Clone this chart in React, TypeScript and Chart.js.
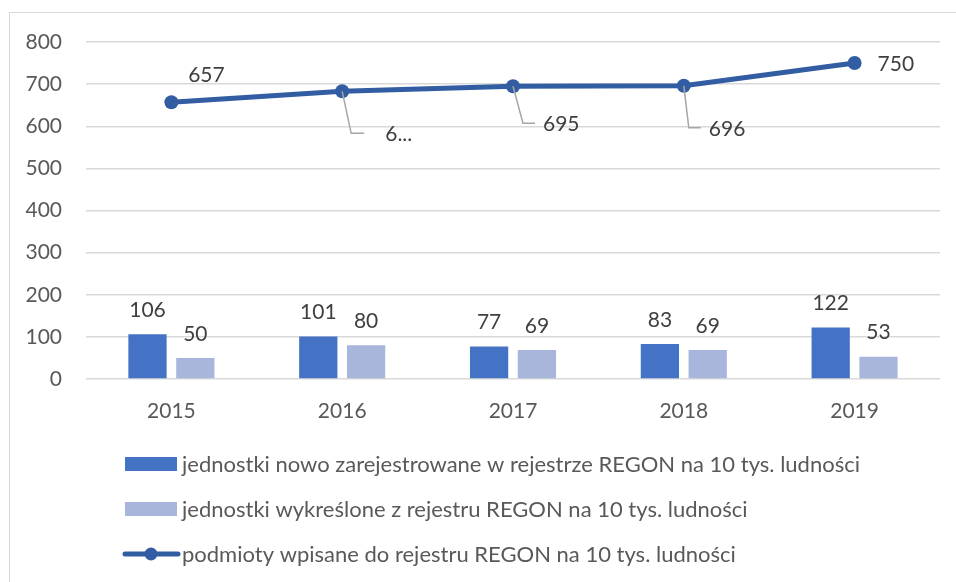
import { useEffect, useRef } from "react";
import { Chart, registerables } from "chart.js";

Chart.register(...registerables);

const categories = ["2015", "2016", "2017", "2018", "2019"];
const newUnits = [106, 101, 77, 83, 122];
const removedUnits = [50, 80, 69, 69, 53];
const registeredEntities = [657, 683, 695, 696, 750];
const registeredLabels = ["657", "6...", "695", "696", "750"];
const seriesNames = [
  "jednostki nowo zarejestrowane w rejestrze REGON na 10 tys. ludności",
  "jednostki wykreślone z rejestru REGON na 10 tys. ludności",
  "podmioty wpisane do rejestru REGON na 10 tys. ludności",
];
const yMin = 0;
const yMax = 800;
const yStep = 100;

const COLORS = {
  dark: "#4472C4",
  light: "#A9B6DC",
  line: "#325DA3",
  grid: "#D9D9D9",
  tick: "#595959",
  label: "#404040",
  leader: "#A6A6A6",
};
const FONT = "Lato, 'Open Sans', sans-serif";
const FS = 21;
const LEGEND_FS = 22;

// label placement relative to the point (style only)
const lineLabelPlacement = [
  { mode: "free", dx: 35, dy: -27 },
  { mode: "leader", kx: 9, ky: 42, hx: 22, tx: 43, ty: 43 },
  { mode: "leader", kx: 10, ky: 37, hx: 22, tx: 30, ty: 38 },
  { mode: "leader", kx: 5, ky: 42, hx: 17, tx: 25, ty: 43 },
  { mode: "right", dx: 23, dy: 1 },
];

const labelsPlugin = {
  id: "customLabels",
  beforeDraw(chart: any) {
    const ctx = chart.ctx;
    ctx.save();
    ctx.strokeStyle = COLORS.grid;
    ctx.lineWidth = 1;
    ctx.strokeRect(9.5, 12.5, 1200, 1200);
    ctx.restore();
  },
  afterDraw(chart: any) {
    const ctx = chart.ctx;
    ctx.save();
    ctx.font = `${FS}px ${FONT}`;
    ctx.fillStyle = COLORS.label;
    ctx.textBaseline = "middle";
    // bar labels
    [0, 1].forEach((di) => {
      const meta = chart.getDatasetMeta(di);
      const data = chart.data.datasets[di].data;
      meta.data.forEach((el: any, i: number) => {
        ctx.textAlign = "center";
        ctx.fillText(String(data[i]), el.x, el.y - 24);
      });
    });
    // line labels
    const lmeta = chart.getDatasetMeta(2);
    lmeta.data.forEach((el: any, i: number) => {
      const p: any = lineLabelPlacement[i];
      const txt = registeredLabels[i];
      if (p.mode === "leader") {
        ctx.strokeStyle = COLORS.leader;
        ctx.lineWidth = 1.5;
        ctx.beginPath();
        ctx.moveTo(el.x, el.y);
        ctx.lineTo(el.x + p.kx, el.y + p.ky);
        ctx.lineTo(el.x + p.hx, el.y + p.ky);
        ctx.stroke();
        ctx.textAlign = "left";
        ctx.fillText(txt, el.x + p.tx, el.y + p.ty);
      } else if (p.mode === "right") {
        ctx.textAlign = "left";
        ctx.fillText(txt, el.x + p.dx, el.y + p.dy);
      } else {
        ctx.textAlign = "center";
        ctx.fillText(txt, el.x + p.dx, el.y + p.dy);
      }
    });
    // legend
    const lx = 125;
    const rows = [464, 509, 554];
    ctx.fillStyle = COLORS.dark;
    ctx.fillRect(lx, rows[0] - 7, 52, 14);
    ctx.fillStyle = COLORS.light;
    ctx.fillRect(lx, rows[1] - 7, 52, 14);
    ctx.strokeStyle = COLORS.line;
    ctx.lineWidth = 5;
    ctx.lineCap = "round";
    ctx.beginPath();
    ctx.moveTo(lx, rows[2]);
    ctx.lineTo(lx + 53, rows[2]);
    ctx.stroke();
    ctx.fillStyle = COLORS.line;
    ctx.beginPath();
    ctx.arc(lx + 26, rows[2], 6.5, 0, Math.PI * 2);
    ctx.fill();
    ctx.font = `${LEGEND_FS}px ${FONT}`;
    ctx.fillStyle = COLORS.tick;
    ctx.textAlign = "left";
    seriesNames.forEach((n, i) => ctx.fillText(n, 182, rows[i] + 1));
    ctx.restore();
  },
};

export default function App() {
  const ref = useRef<HTMLCanvasElement | null>(null);
  useEffect(() => {
    if (!ref.current) return;
    const chart = new Chart(ref.current, {
      type: "bar",
      data: {
        labels: categories,
        datasets: [
          {
            type: "bar",
            label: seriesNames[0],
            data: newUnits,
            backgroundColor: COLORS.dark,
            categoryPercentage: 0.56,
            barPercentage: 0.8,
            order: 2,
          },
          {
            type: "bar",
            label: seriesNames[1],
            data: removedUnits,
            backgroundColor: COLORS.light,
            categoryPercentage: 0.56,
            barPercentage: 0.8,
            order: 2,
          },
          {
            type: "line",
            label: seriesNames[2],
            data: registeredEntities,
            borderColor: COLORS.line,
            backgroundColor: COLORS.line,
            borderWidth: 5,
            pointRadius: 7,
            pointHoverRadius: 7,
            pointBackgroundColor: COLORS.line,
            pointBorderWidth: 0,
            tension: 0,
            order: 1,
          } as any,
        ],
      },
      options: {
        responsive: false,
        animation: false,
        events: [],
        layout: { padding: { top: 42, right: 16, bottom: 153, left: 0 } },
        plugins: { legend: { display: false }, tooltip: { enabled: false } },
        font: { family: FONT },
        scales: {
          x: {
            grid: { display: false, drawTicks: false },
            border: { display: false },
            ticks: { color: COLORS.tick, font: { family: FONT, size: FS }, padding: 20 },
            afterFit: (s: any) => {
              s.height = 50;
            },
          },
          y: {
            min: yMin,
            max: yMax,
            grid: { color: COLORS.grid, lineWidth: 1.5, drawTicks: false },
            border: { display: false },
            ticks: {
              stepSize: yStep,
              color: COLORS.tick,
              font: { family: FONT, size: FS },
              padding: 24,
            },
            afterFit: (s: any) => {
              s.width = 86;
            },
          },
        },
      } as any,
      plugins: [labelsPlugin],
    });
    return () => chart.destroy();
  }, []);
  return (
    <div style={{ position: "fixed", left: 0, top: 0, width: 956, height: 582, background: "#fff" }}>
      <canvas ref={ref} width={956} height={582} style={{ width: 956, height: 582 }} />
    </div>
  );
}
